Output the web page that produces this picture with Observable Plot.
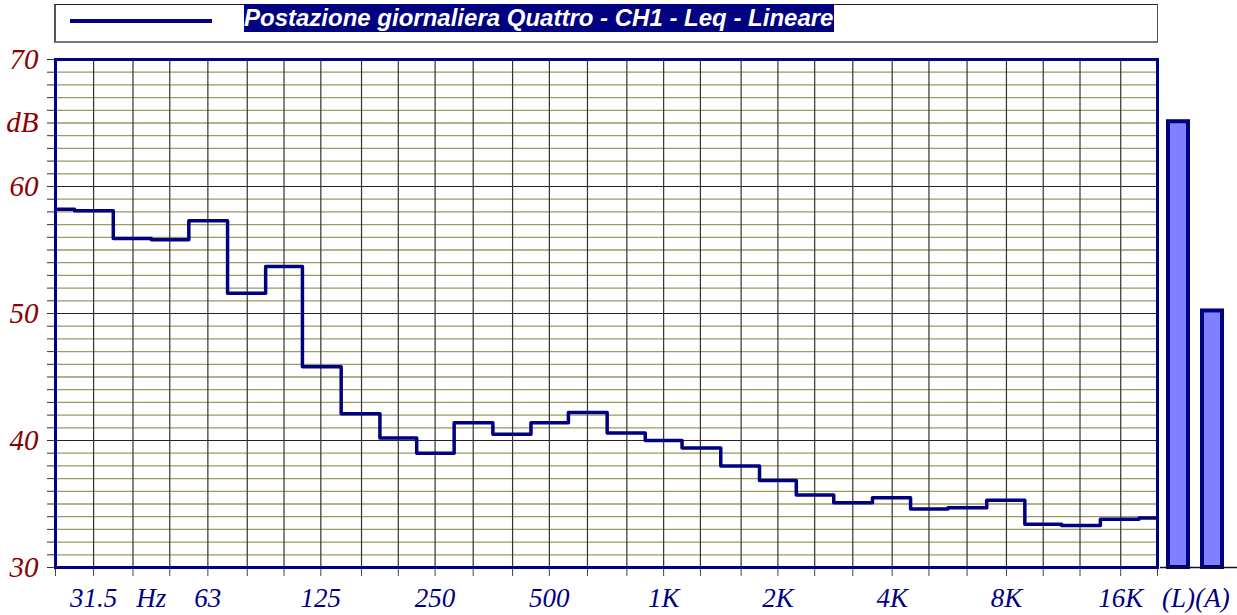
<!DOCTYPE html>
<html>
<head>
<meta charset="utf-8">
<script src="https://cdn.jsdelivr.net/npm/d3@7"></script>
<script src="https://cdn.jsdelivr.net/npm/@observablehq/plot@0.6"></script>
<style>
  html, body { margin: 0; padding: 0; background: #fff; }
  #wrap { position: relative; width: 1237px; height: 615px; overflow: hidden; }
  #legend { position: absolute; left: 0; top: 0; width: 1237px; height: 48px; z-index: 2; }
  #legend .box { position: absolute; left: 54px; top: 4px; width: 1101px; height: 36px;
    border-top: 1px solid #222; border-left: 2px solid #555; border-right: 1px solid #555; border-bottom: 2px solid #777; }
  #legend .swatch { position: absolute; left: 70px; top: 19px; width: 142px; height: 4px; background: #000080; }
  #legend .label { position: absolute; left: 244px; top: 4px; height: 28px; line-height: 28px;
    background: #000080; color: #fff; font: italic bold 24px "Liberation Sans", Arial, sans-serif; padding-right: 1px; white-space: nowrap; }
  #charts { position: absolute; left: 0; top: 0; display: flex; align-items: flex-start; }
  #charts svg { display: block; }
  #charts svg text { font-style: italic; }
</style>
</head>
<body>
<div id="wrap">
  <div id="charts"></div>
  <div id="legend">
    <div class="box"></div>
    <div class="swatch"></div>
    <span class="label" id="legendText"></span>
  </div>
</div>
<script>
// ---- data ----
const seriesName = "Postazione giornaliera Quattro - CH1 - Leq - Lineare";
const bands = [25, 31.5, 40, 50, 63, 80, 100, 125, 160, 200, 250, 315, 400, 500, 630, 800,
  1000, 1250, 1600, 2000, 2500, 3150, 4000, 5000, 6300, 8000, 10000, 12500, 16000, 20000];
const levels = [58.2, 58.1, 55.9, 55.8, 57.3, 51.6, 53.7, 45.8, 42.1, 40.2, 39.0, 41.4, 40.5, 41.4, 42.2, 40.6,
  40.0, 39.4, 38.0, 36.85, 35.7, 35.1, 35.5, 34.6, 34.7, 35.3, 33.4, 33.3, 33.8, 33.9];
const totalLabels = ["(L)", "(A)"];
const totalLevels = [65.1, 50.2];
const yLabelTicks = [30, 40, 50, 60, 65, 70];
const yLabelText = ["30", "40", "50", "60", "dB", "70"];
const xLabelTicks = [31.5, 44.7, 63, 125, 250, 500, 1000, 2000, 4000, 8000, 16000];
const xLabelText = ["31.5", "Hz", "63", "125", "250", "500", "1K", "2K", "4K", "8K", "16K"];

document.getElementById("legendText").textContent = seriesName;

const spectrum = bands.map((f, i) => ({f, v: levels[i]}));
const totals = totalLabels.map((b, i) => ({b, v: totalLevels[i]}));
const yLabels = yLabelTicks.map((v, i) => ({v, t: yLabelText[i]}));
const xLabels = xLabelTicks.map((f, i) => ({f, t: xLabelText[i]}));
const dbAll = d3.range(30, 71);
const minorDb = dbAll.filter(d => d % 10 !== 0);
const majorDb = [40, 50, 60];

const navy = "#000080";
const serif = "Liberation Serif";

const main = Plot.plot({
  width: 1160, height: 615,
  marginTop: 59, marginBottom: 48, marginLeft: 55, marginRight: 3,
  x: {type: "log", domain: [25, 20000], label: null},
  y: {domain: [30, 70], label: null},
  marks: [
    Plot.ruleY(minorDb, {stroke: "#9a9a62", strokeWidth: 1.3}),
    Plot.ruleY(majorDb, {stroke: "#222", strokeWidth: 1.2}),
    Plot.ruleX(bands, {stroke: "#333", strokeWidth: 1.2}),
    Plot.axisY({ticks: dbAll, tickSize: 8, tickFormat: () => "", color: "#333", label: null}),
    Plot.axisX({ticks: bands, tickSize: 9, tickFormat: () => "", color: "#444", label: null}),
    Plot.text(yLabels, {y: "v", text: "t", frameAnchor: "left", textAnchor: "end", dx: -17,
      fill: "#8b0000", fontSize: 29, fontStyle: "italic", fontFamily: serif}),
    Plot.text(xLabels, {x: "f", text: "t", frameAnchor: "bottom", lineAnchor: "top", dy: 20,
      fill: navy, fontSize: 27, fontStyle: "italic", fontFamily: serif}),
    Plot.line(spectrum, {x: "f", y: "v", curve: "step", stroke: navy, strokeWidth: 3.5}),
    Plot.frame({stroke: navy, strokeWidth: 3})
  ]
});

const side = Plot.plot({
  width: 77, height: 615,
  marginTop: 59, marginBottom: 48, marginLeft: 0, marginRight: 0,
  x: {type: "band", domain: totalLabels, range: [0, 70], paddingInner: 0.2857, paddingOuter: 0.1429, axis: null, label: null},
  y: {domain: [30, 70], axis: null, label: null},
  marks: [
    Plot.barY(totals, {x: "b", y1: 30, y2: "v", fill: "#8080ff", stroke: navy, strokeWidth: 4, insetLeft: 2, insetRight: 2}),
    Plot.ruleY([30], {stroke: "#111", strokeWidth: 1.5}),
    Plot.text(totals, {x: "b", text: "b", frameAnchor: "bottom", lineAnchor: "top", dy: 20,
      fill: navy, fontSize: 27, fontStyle: "italic", fontFamily: serif})
  ]
});

const charts = document.getElementById("charts");
charts.appendChild(main);
charts.appendChild(side);
</script>
</body>
</html>
